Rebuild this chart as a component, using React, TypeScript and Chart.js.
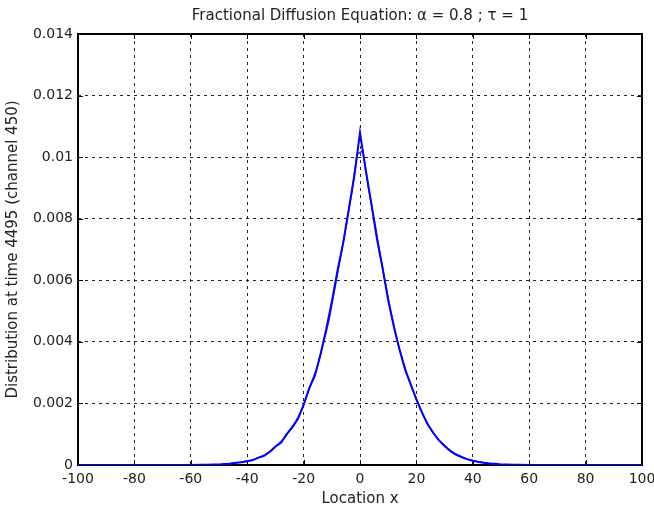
import React, { useEffect, useRef } from 'react';
import { Chart, registerables } from 'chart.js';

Chart.register(...registerables);

const titleText = 'Fractional Diffusion Equation: \u03B1 = 0.8 ; \u03C4 = 1';
const xTitle = 'Location x';
const yTitle = 'Distribution at time 4495 (channel 450)';

const xTicks = [-100, -80, -60, -40, -20, 0, 20, 40, 60, 80, 100];
const yTicks = [0, 0.002, 0.004, 0.006, 0.008, 0.01, 0.012, 0.014];

// simulated distribution (even locations)
const simX = [-100, -80, -60, -56, -54, -52, -50, -48, -46, -44, -42, -40, -38, -36, -34, -32, -30, -28, -26, -24, -22, -20, -18, -16, -14, -12, -10, -8, -6, -4, -2, 0, 2, 4, 6, 8, 10, 12, 14, 16, 18, 20, 22, 24, 26, 28, 30, 32, 34, 36, 38, 40, 42, 44, 46, 48, 50, 52, 54, 56, 60, 80, 100];
const simY = [0, 0, 0, 0.00001, 0.00001, 0.00002, 0.00002, 0.00003, 0.00004, 0.00007, 0.00009, 0.00012, 0.00016, 0.00024, 0.0003, 0.00043, 0.0006, 0.00072, 0.001, 0.00122, 0.0015, 0.00195, 0.0025, 0.0029, 0.0036, 0.0044, 0.0053, 0.0063, 0.0072, 0.0083, 0.0094, 0.0108, 0.0096, 0.0085, 0.00735, 0.0064, 0.00535, 0.0045, 0.00375, 0.0031, 0.00262, 0.00212, 0.0017, 0.00132, 0.00104, 0.0008, 0.00062, 0.00046, 0.00034, 0.00026, 0.00019, 0.00014, 0.0001, 0.00007, 0.00005, 0.00004, 0.00002, 0.00002, 0.00001, 0.00001, 0, 0, 0];

// second trace (odd locations)
const fitX = [-100, -60, -49, -47, -45, -43, -41, -39, -37, -35, -33, -31, -29, -27, -25, -23, -21, -19, -17, -15, -13, -11, -9, -7, -5, -3, -1, 1, 3, 5, 7, 9, 11, 13, 15, 17, 19, 21, 23, 25, 27, 29, 31, 33, 35, 37, 39, 41, 43, 45, 47, 49, 60, 100];
const fitY = [0, 0, 0.00002, 0.00004, 0.00006, 0.00008, 0.00011, 0.00014, 0.0002, 0.00027, 0.00036, 0.0005, 0.00068, 0.00085, 0.00112, 0.00138, 0.00172, 0.0022, 0.00272, 0.00322, 0.00395, 0.0047, 0.0057, 0.0067, 0.0077, 0.0088, 0.0101, 0.0102, 0.009, 0.008, 0.0069, 0.0059, 0.00495, 0.0041, 0.00345, 0.00285, 0.00238, 0.00192, 0.0015, 0.00118, 0.00092, 0.00071, 0.00054, 0.0004, 0.0003, 0.00022, 0.00016, 0.00012, 0.00009, 0.00006, 0.00004, 0.00002, 0, 0];

const FONT = 'DejaVu Sans';

export default function App() {
  const ref = useRef<HTMLCanvasElement>(null);

  useEffect(() => {
    const framePlugin = {
      id: 'frame',
      beforeDatasetsDraw(chart: any) {
        const { ctx, chartArea: a, scales } = chart;
        ctx.save();
        ctx.strokeStyle = '#000';
        ctx.lineWidth = 1;
        ctx.setLineDash([]);
        const tl = 5;
        ctx.beginPath();
        xTicks.forEach((v) => {
          const px = Math.round(scales.x.getPixelForValue(v)) + 0.5;
          ctx.moveTo(px, a.bottom);
          ctx.lineTo(px, a.bottom - tl);
          ctx.moveTo(px, a.top);
          ctx.lineTo(px, a.top + tl);
        });
        yTicks.forEach((v) => {
          const py = Math.round(scales.y.getPixelForValue(v)) + 0.5;
          ctx.moveTo(a.left, py);
          ctx.lineTo(a.left + tl, py);
          ctx.moveTo(a.right, py);
          ctx.lineTo(a.right - tl, py);
        });
        ctx.stroke();
        ctx.lineWidth = 2;
        ctx.strokeRect(a.left, a.top, a.right - a.left, a.bottom - a.top);
        ctx.restore();
      },
      afterDraw(chart: any) {
        const { ctx, chartArea: a } = chart;
        ctx.save();
        ctx.fillStyle = '#222';
        ctx.font = `normal 15px "${FONT}"`;
        ctx.textAlign = 'center';
        ctx.textBaseline = 'middle';
        ctx.fillText(titleText, (a.left + a.right) / 2, 16);
        ctx.restore();
      },
    };

    const chart = new Chart(ref.current as HTMLCanvasElement, {
      type: 'line',
      data: {
        datasets: [
          {
            data: simX.map((x, i) => ({ x, y: simY[i] })),
            borderColor: '#0000ff',
            borderWidth: 2,
            pointRadius: 0,
            tension: 0,
            fill: false,
          },
          {
            data: fitX.map((x, i) => ({ x, y: fitY[i] })),
            borderColor: '#3030ff',
            borderWidth: 1.5,
            pointRadius: 0,
            tension: 0,
            fill: false,
          },
        ],
      },
      options: {
        responsive: false,
        animation: false,
        layout: { padding: { left: 0, right: 12, top: 34, bottom: 0 } },
        plugins: {
          legend: { display: false },
          tooltip: { enabled: false },
          title: { display: false },
        },
        scales: {
          x: {
            type: 'linear',
            min: -100,
            max: 100,
            afterBuildTicks: (s: any) => {
              s.ticks = xTicks.map((v) => ({ value: v }));
            },
            afterFit: (s: any) => {
              s.height = 47;
              s.paddingLeft = 0;
              s.paddingRight = 0;
            },
            ticks: {
              color: '#222',
              font: { family: FONT, size: 14 },
              padding: 6,
              maxRotation: 0,
              autoSkip: false,
              callback: (v: any) => String(v),
            },
            grid: { color: '#222', lineWidth: 1, drawTicks: false },
            border: { display: false, dash: [3, 4] },
            title: {
              display: true,
              text: xTitle,
              color: '#222',
              font: { family: FONT, size: 15 },
              padding: { top: 2, bottom: 4 },
            },
          },
          y: {
            type: 'linear',
            min: 0,
            max: 0.014,
            afterBuildTicks: (s: any) => {
              s.ticks = yTicks.map((v) => ({ value: v }));
            },
            afterFit: (s: any) => {
              s.width = 78;
              s.paddingTop = 0;
              s.paddingBottom = 0;
            },
            ticks: {
              color: '#222',
              font: { family: FONT, size: 14 },
              padding: 5,
              autoSkip: false,
              callback: (v: any) => (v === 0 ? '0' : String(+Number(v).toFixed(3))),
            },
            grid: { color: '#222', lineWidth: 1, drawTicks: false },
            border: { display: false, dash: [3, 4] },
            title: {
              display: true,
              text: yTitle,
              color: '#222',
              font: { family: FONT, size: 15 },
              padding: { top: 4, bottom: 4 },
            },
          },
        },
      },
      plugins: [framePlugin],
    });

    return () => chart.destroy();
  }, []);

  return (
    <div style={{ position: 'absolute', left: 0, top: 0, width: 654, height: 512, background: '#fff' }}>
      <canvas ref={ref} width={654} height={512} style={{ display: 'block', width: 654, height: 512 }} />
    </div>
  );
}
